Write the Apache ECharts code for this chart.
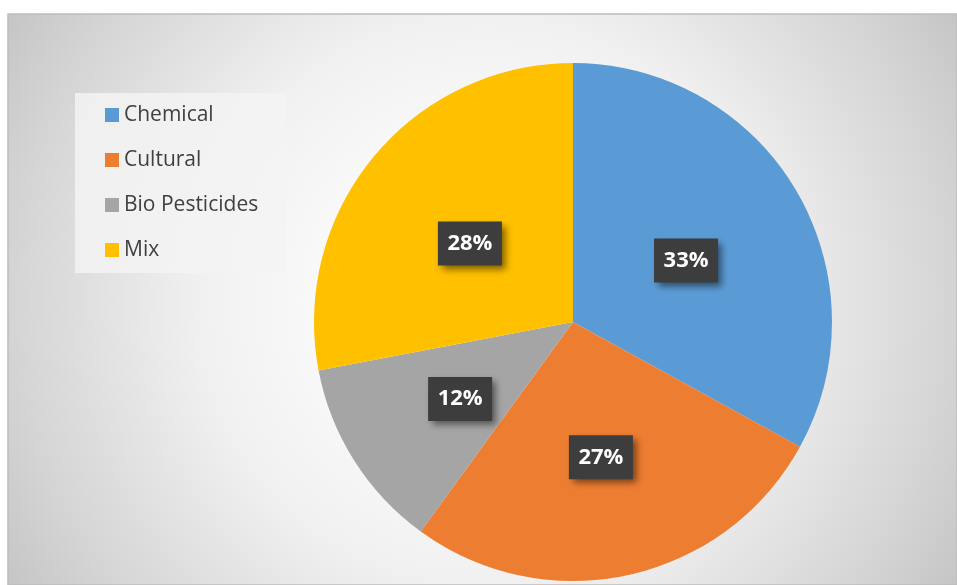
<!DOCTYPE html>
<html>
<head>
    <meta charset="utf-8">
    <script src="https://cdn.jsdelivr.net/npm/echarts@6/dist/echarts.min.js"></script>
    <style>
        html, body { margin: 0; padding: 0; background: #fff; }
    </style>
</head>
<body>
    <div id="main" style="width: 957px;height:585px;"></div>
    <script type="text/javascript">
        // data
        var categories = ['Chemical', 'Cultural', 'Bio Pesticides', 'Mix'];
        var shares = [33, 27, 12, 28];
        var colors = ['#5B9BD5', '#ED7D31', '#A5A5A5', '#FFC000'];

        var myChart = echarts.init(document.getElementById('main'));

        var option = {
            animation: false,
            graphic: [
                {
                    type: 'rect',
                    z: -10,
                    shape: { x: 8, y: 14, width: 949, height: 571 },
                    style: {
                        fill: {
                            type: 'radial', x: 0.5, y: 0.5, r: 0.98,
                            colorStops: [
                                { offset: 0, color: '#ffffff' },
                                { offset: 0.25, color: '#fbfbfb' },
                                { offset: 0.51, color: '#f0f0f0' },
                                { offset: 0.84, color: '#d4d4d4' },
                                { offset: 1, color: '#c4c4c4' }
                            ]
                        },
                        stroke: '#bdbdbd',
                        lineWidth: 1.5
                    }
                },
                {
                    type: 'rect',
                    z: -5,
                    shape: { x: 75, y: 93, width: 211, height: 180 },
                    style: { fill: 'rgba(243,243,243,0.85)' }
                }
            ],
            legend: {
                orient: 'vertical',
                left: 105,
                top: 104,
                padding: 0,
                icon: 'rect',
                itemWidth: 14,
                itemHeight: 14,
                itemGap: 23,
                data: categories,
                textStyle: {
                    fontFamily: 'Open Sans',
                    fontSize: 21,
                    lineHeight: 22,
                    color: '#404040'
                }
            },
            series: [
                {
                    type: 'pie',
                    center: [573, 322],
                    radius: 259,
                    startAngle: 90,
                    clockwise: true,
                    avoidLabelOverlap: false,
                    itemStyle: { borderWidth: 0 },
                    label: {
                        show: true,
                        position: 'inside',
                        formatter: '{d}%',
                        fontFamily: 'Open Sans',
                        fontWeight: 'bold',
                        fontSize: 22,
                        lineHeight: 24,
                        color: '#ffffff',
                        backgroundColor: '#3d3d3d',
                        width: 46,
                        overflow: 'none',
                        align: 'center',
                        padding: [10, 9, 10, 9],
                        offset: [-1, 6],
                        shadowColor: 'rgba(0,0,0,0.5)',
                        shadowBlur: 7,
                        shadowOffsetX: 4,
                        shadowOffsetY: 4
                    },
                    labelLine: { show: false },
                    emphasis: { disabled: true },
                    data: categories.map(function (name, i) {
                        return { name: name, value: shares[i], itemStyle: { color: colors[i] } };
                    })
                }
            ]
        };

        myChart.setOption(option);
    </script>
</body>
</html>
